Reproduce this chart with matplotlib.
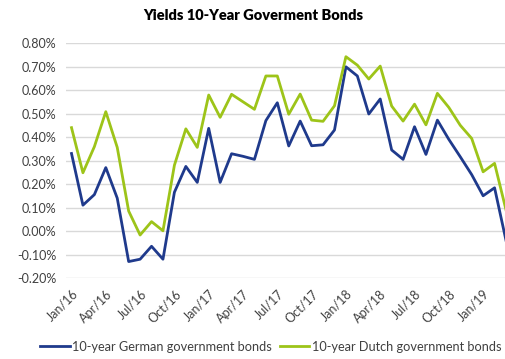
import matplotlib.pyplot as plt
from matplotlib.ticker import FuncFormatter

# monthly values, Jan/16 .. Mar/19 (in %)
months = ["Jan/16", "Feb/16", "Mar/16", "Apr/16", "May/16", "Jun/16", "Jul/16", "Aug/16", "Sep/16",
          "Oct/16", "Nov/16", "Dec/16", "Jan/17", "Feb/17", "Mar/17", "Apr/17", "May/17", "Jun/17",
          "Jul/17", "Aug/17", "Sep/17", "Oct/17", "Nov/17", "Dec/17", "Jan/18", "Feb/18", "Mar/18",
          "Apr/18", "May/18", "Jun/18", "Jul/18", "Aug/18", "Sep/18", "Oct/18", "Nov/18", "Dec/18",
          "Jan/19", "Feb/19", "Mar/19"]
german = [0.33, 0.11, 0.155, 0.27, 0.14, -0.13, -0.12, -0.065, -0.12, 0.165, 0.275, 0.207,
          0.437, 0.207, 0.329, 0.318, 0.305, 0.47, 0.546, 0.362, 0.468, 0.363, 0.367, 0.43,
          0.699, 0.66, 0.498, 0.562, 0.345, 0.305, 0.444, 0.326, 0.472, 0.39, 0.316, 0.24,
          0.15, 0.184, -0.04]
dutch = [0.44, 0.248, 0.359, 0.508, 0.356, 0.085, -0.017, 0.04, 0.001, 0.28, 0.435, 0.356,
         0.579, 0.484, 0.582, 0.55, 0.518, 0.66, 0.66, 0.497, 0.583, 0.472, 0.467, 0.533,
         0.742, 0.706, 0.647, 0.702, 0.532, 0.468, 0.54, 0.452, 0.586, 0.526, 0.45, 0.394,
         0.252, 0.288, 0.09]
y_ticks = [-0.2, -0.1, 0.0, 0.1, 0.2, 0.3, 0.4, 0.5, 0.6, 0.7, 0.8]

plt.rcParams['font.family'] = ['Lato', 'DejaVu Sans']

fig = plt.figure(figsize=(5.06, 3.59), dpi=100)
ax = fig.add_axes([0.130, 0.2256, 0.870, 0.6544])

x = list(range(len(months)))
ax.plot(x, german, color="#1F3A8C", lw=2.0, label="10-year German government bonds")
ax.plot(x, dutch, color="#9DC419", lw=2.0, label="10-year Dutch government bonds")

ax.set_ylim(-0.2, 0.8)
ax.set_xlim(-0.5, len(months) - 1)
ax.set_yticks(y_ticks)
ax.yaxis.set_major_formatter(FuncFormatter(lambda v, p: f"{v:.2f}%"))
ax.set_xticks(x[::3])
ax.set_xticklabels(months[::3], rotation=45, ha="right", rotation_mode="anchor")
ax.tick_params(axis="both", length=0, labelsize=9, colors="#404040", pad=7)
ax.grid(axis="y", color="#D9D9D9", lw=1)
ax.set_axisbelow(True)
for s in ax.spines.values():
    s.set_visible(False)

fig.suptitle("Yields 10-Year Goverment Bonds", fontsize=10.5, fontweight="heavy", y=0.975)
fig.legend(loc="lower center", bbox_to_anchor=(0.535, -0.015), ncol=2, frameon=False,
           fontsize=9.2, handlelength=2.3, handletextpad=0.2, columnspacing=0.6,
           labelcolor="#404040")

fig.savefig("out.png", dpi=100)
